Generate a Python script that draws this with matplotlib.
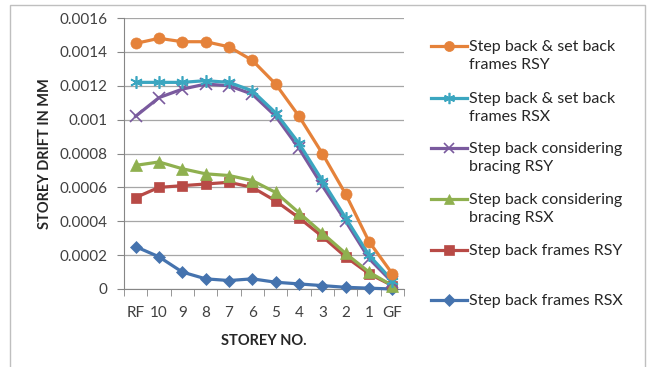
import matplotlib
matplotlib.use("Agg")
import matplotlib.pyplot as plt
from matplotlib.lines import Line2D
from matplotlib.patches import Rectangle

plt.rcParams['font.family'] = ['Lato', 'DejaVu Sans']

storeys = ["RF", "10", "9", "8", "7", "6", "5", "4", "3", "2", "1", "GF"]

sbsb_rsy = [0.00145, 0.00148, 0.00146, 0.00146, 0.00143, 0.00135, 0.00121, 0.00102, 0.00080, 0.00056, 0.00028, 0.00009]
sbsb_rsx = [0.00122, 0.00122, 0.00122, 0.00123, 0.00122, 0.00117, 0.00104, 0.00086, 0.00064, 0.00042, 0.00020, 0.00005]
brace_rsy = [0.00102, 0.00113, 0.00118, 0.00121, 0.00120, 0.00115, 0.00102, 0.00083, 0.00061, 0.00040, 0.00018, 0.00004]
brace_rsx = [0.00073, 0.00075, 0.00071, 0.00068, 0.00067, 0.00064, 0.00057, 0.00045, 0.00033, 0.00021, 0.00010, 0.00002]
sb_rsy = [0.00054, 0.00060, 0.00061, 0.00062, 0.00063, 0.00060, 0.00052, 0.00042, 0.00031, 0.00019, 0.00009, 0.00002]
sb_rsx = [0.00025, 0.00019, 0.00010, 0.00006, 0.00005, 0.00006, 0.00004, 0.00003, 0.00002, 0.00001, 0.000005, 0.0]

labels = [
    "Step back & set back\nframes RSY",
    "Step back & set back\nframes RSX",
    "Step back considering\nbracing RSY",
    "Step back considering\nbracing RSX",
    "Step back frames RSY",
    "Step back frames RSX",
]
series = [sbsb_rsy, sbsb_rsx, brace_rsy, brace_rsx, sb_rsy, sb_rsx]
colors = ["#E5823A", "#3BA6C0", "#7A5A9E", "#8FB04F", "#B84A46", "#4573AE"]
markers = ["o", (6, 2, 0), "x", "^", "s", "D"]
msizes = [8, 9, 8, 8, 7.5, 6.5]

fig = plt.figure(figsize=(6.5, 3.67), dpi=100)
fig.patch.set_facecolor("white")
fig.add_artist(Rectangle((10 / 650, -0.01), 635 / 650, 0.99 + 0.01 - 1 / 367,
                         transform=fig.transFigure, fill=False,
                         edgecolor="#BFBFBF", linewidth=1.0))

ax = fig.add_axes([124 / 650, 1 - 289 / 367, 280 / 650, 271 / 367])
x = list(range(len(storeys)))

# draw from the bottom series up so the top legend entry sits on top
for i in reversed(range(len(series))):
    m = markers[i]
    mew = 1.2 if i in (1, 2) else 0.5
    ax.plot(x, series[i], color=colors[i], linewidth=2.3, marker=m,
            markersize=msizes[i], markeredgewidth=mew,
            markeredgecolor=colors[i], markerfacecolor=colors[i],
            zorder=3 + (len(series) - i), clip_on=False)

ax.set_xlim(-0.5, len(storeys) - 0.5)
ax.set_ylim(0, 0.0016)
ax.set_yticks([0, 0.0002, 0.0004, 0.0006, 0.0008, 0.001, 0.0012, 0.0014, 0.0016])
ax.set_yticklabels(["0", "0.0002", "0.0004", "0.0006", "0.0008", "0.001",
                    "0.0012", "0.0014", "0.0016"])
ax.set_xticks(x)
ax.set_xticklabels(storeys)
ax.set_xticks([i - 0.5 for i in range(len(storeys) + 1)], minor=True)
ax.tick_params(axis="x", which="major", length=0, pad=12, labelsize=11)
ax.tick_params(axis="x", which="minor", length=5, color="#868686")
ax.tick_params(axis="y", length=5, color="#868686", labelsize=11, pad=7)
for lab in ax.get_yticklabels() + ax.get_xticklabels():
    lab.set_color("#404040")

ax.grid(axis="y", color="#A6A6A6", linewidth=0.9)
ax.set_axisbelow(True)
for s in ("top", "right"):
    ax.spines[s].set_visible(False)
ax.spines["left"].set_color("#868686")
ax.spines["bottom"].set_color("#868686")

ax.set_ylabel("STOREY DRIFT IN MM", fontsize=10.5, fontweight="bold", color="#262626", labelpad=5)
ax.set_xlabel("STOREY NO.", fontsize=10.5, fontweight="bold", color="#262626", labelpad=10)

# legend drawn at the right of the plot, marker aligned with first text line
rows = [46, 98, 148, 199, 250, 300]
for i, yp in enumerate(rows):
    yf = 1 - yp / 367
    fig.add_artist(Line2D([431 / 650, 467 / 650], [yf, yf], transform=fig.transFigure,
                          color=colors[i], linewidth=2.3))
    fig.add_artist(Line2D([449 / 650], [yf], transform=fig.transFigure,
                          color=colors[i], marker=markers[i],
                          markersize=msizes[i] * 0.9,
                          markeredgewidth=1.2 if i in (1, 2) else 0.5,
                          markeredgecolor=colors[i], markerfacecolor=colors[i]))
    fig.text(469 / 650, yf + 6 / 367, labels[i], fontsize=11.5, color="#262626",
             va="top", ha="left", linespacing=1.4)

fig.savefig("out.png", dpi=100)
